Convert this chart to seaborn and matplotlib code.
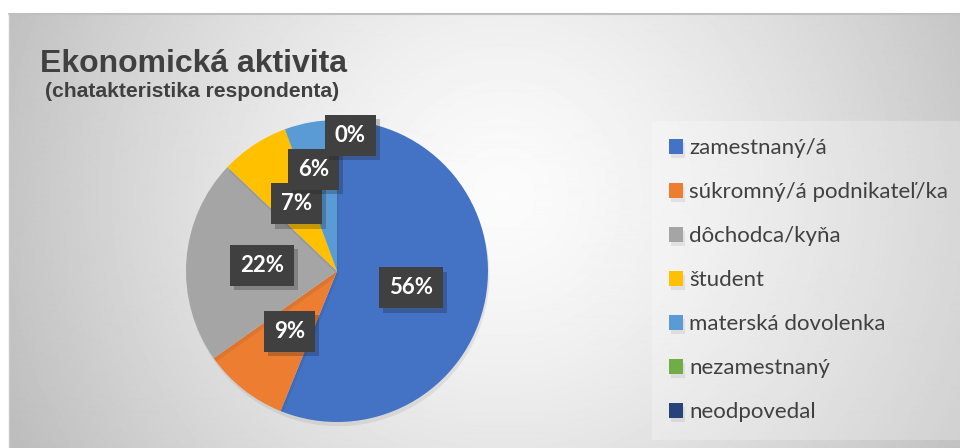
import numpy as np
import matplotlib
matplotlib.use("Agg")
import matplotlib.pyplot as plt
import matplotlib.patheffects as pe
import seaborn as sns

# Data
categories = ["zamestnaný/á", "súkromný/á podnikateľ/ka", "dôchodca/kyňa", "študent",
              "materská dovolenka", "nezamestnaný", "neodpovedal"]
shares = [56.1, 9.1, 21.9, 7.3, 5.6, 0.0, 0.0]
colors = ["#4472C4", "#ED7D31", "#A5A5A5", "#FFC000", "#5B9BD5", "#70AD47", "#264478"]
title = "Ekonomická aktivita"
subtitle = "(chatakteristika respondenta)"

sns.set_theme(style="white")
plt.rcParams["font.family"] = ["Lato", "DejaVu Sans"]

fig = plt.figure(figsize=(9.6, 4.48), dpi=100)
W, H = 960, 448

# chart area background with radial gradient
bg = fig.add_axes([9 / W, 0, 1 - 9 / W, 1 - 14 / H])
h, w = 434, 951
yy, xx = np.mgrid[0:h, 0:w]
d = np.sqrt((xx - 0.52 * w) ** 2 + (yy - 0.42 * h) ** 2) / 540
shade = np.clip(0.985 - 0.24 * d ** 1.4, 0, 1)
bg.imshow(shade, cmap="gray", vmin=0, vmax=1, aspect="auto", interpolation="bilinear")
bg.set_axis_off()
# thin borders of the chart area
fig.add_artist(plt.Line2D([9 / W, 1], [1 - 14 / H, 1 - 14 / H], color="#bfbfbf", lw=1.5))
fig.add_artist(plt.Line2D([9 / W, 9 / W], [0, 1 - 14 / H], color="#c8c8c8", lw=1))

# pie
cx, cy, r = 337, 271, 151
ax = fig.add_axes([(cx - r) / W, (H - cy - r) / H, 2 * r / W, 2 * r / H])
wedges, _ = ax.pie(shares, colors=colors, startangle=90, counterclock=False,
                   radius=1, wedgeprops=dict(linewidth=0))
for wdg in wedges:
    wdg.set_path_effects([pe.SimplePatchShadow(offset=(1, -3), shadow_rgbFace="k", alpha=0.08),
                          pe.Normal()])
ax.set_xlim(-1, 1)
ax.set_ylim(-1, 1)
ax.set_aspect("equal")
ax.set_axis_off()

# label placement (radius fraction, clockwise angle nudge in degrees) - layout only
label_layout = [(0.5, 2), (0.51, 0), (0.5, 0), (0.52, 2), (0.69, -3), (0.9, 5.5), (0.9, 5.5)]
for i, (wdg, val) in enumerate(zip(wedges, shares)):
    if i == len(shares) - 1:
        continue
    ang = np.deg2rad((wdg.theta1 + wdg.theta2) / 2 - label_layout[i][1])
    dist = label_layout[i][0]
    t = ax.text(dist * np.cos(ang), dist * np.sin(ang), f"{val:.0f}%",
                ha="center", va="center", color="white", fontsize=16, fontweight="bold",
                bbox=dict(boxstyle="square,pad=0.45", facecolor="#404040",
                          edgecolor="none", linewidth=0))
    t.get_bbox_patch().set_path_effects([
        pe.SimplePatchShadow(offset=(3, -3), shadow_rgbFace="k", alpha=0.25), pe.Normal()])

# titles
fig.text(40 / W, 1 - 71.5 / H, title, fontsize=23, fontweight="bold", color="#404040",
         family=["Liberation Sans", "DejaVu Sans"], va="baseline")
fig.text(45 / W, 1 - 97 / H, subtitle, fontsize=15.2, fontweight="bold", color="#404040",
         family=["Liberation Sans", "DejaVu Sans"], va="baseline")

# legend
leg = fig.legend(wedges, categories, loc="upper left",
                 bbox_to_anchor=(652 / W, 1 - 121 / H), frameon=True, fancybox=False,
                 fontsize=16, labelcolor="#404040", handlelength=0.63, handleheight=0.63,
                 handletextpad=0.25, labelspacing=1.08, borderpad=0.78, borderaxespad=0,
                 framealpha=0.25)
frame = leg.get_frame()
frame.set_facecolor("white")
frame.set_edgecolor("none")

fig.savefig("out.png", dpi=100)
